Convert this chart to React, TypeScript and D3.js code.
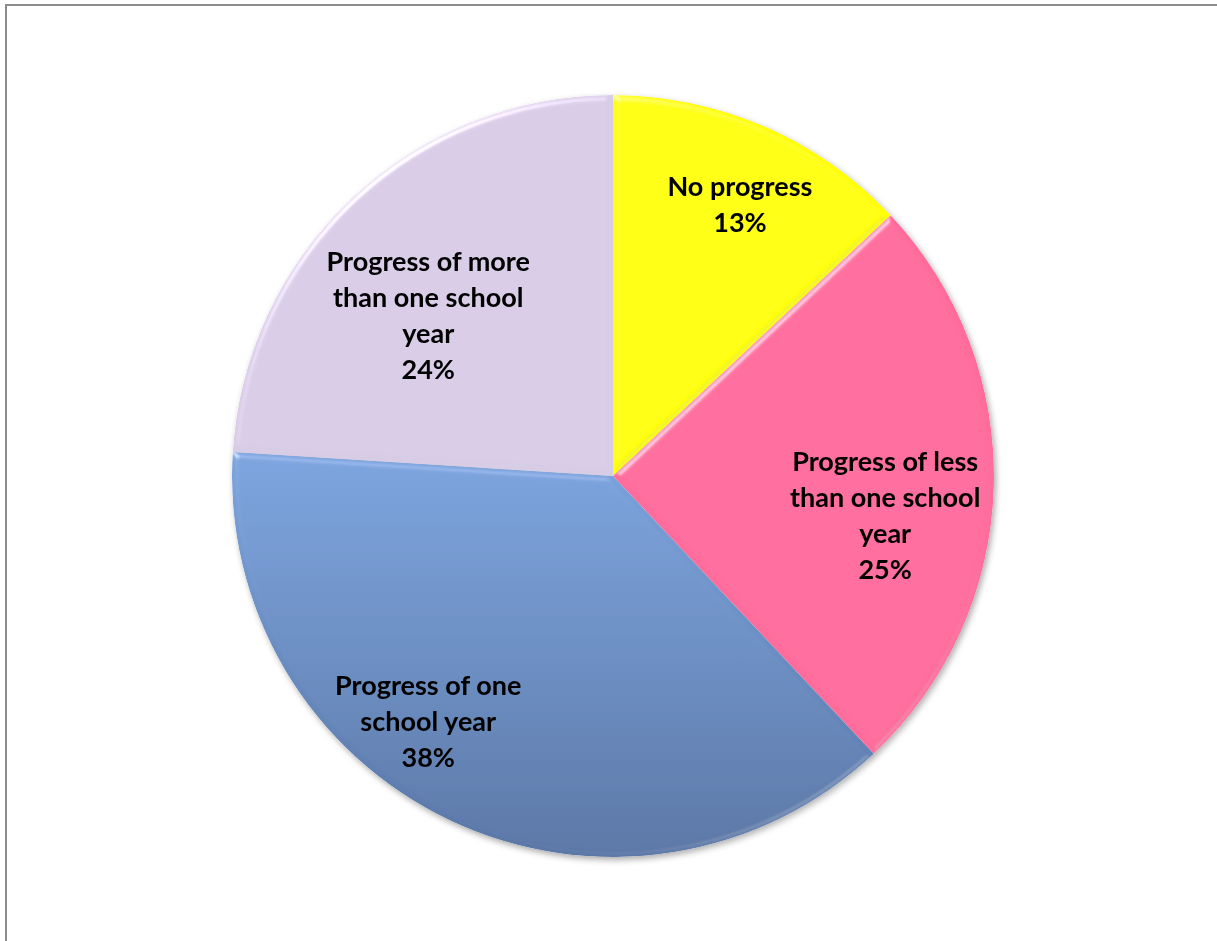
import React from "react";
import * as d3 from "d3";

const categories = [
  "No progress",
  "Progress of less than one school year",
  "Progress of one school year",
  "Progress of more than one school year",
];
const values = [13, 25, 38, 24];
const labelLines = [
  ["No progress", "13%"],
  ["Progress of less", "than one school", "year", "25%"],
  ["Progress of one", "school year", "38%"],
  ["Progress of more", "than one school", "year", "24%"],
];

const W = 1217;
const H = 941;
const CX = 613;
const CY = 476;
const R = 381;
const sliceColors = ["#FFFF00", "#FF6C9C", "url(#blueGrad)", "#D8CCE6"];
// label nudges relative to the label-arc centroid
const labelNudge = [
  [18, -20],
  [-2, 31],
  [-68, -3],
  [3, 40],
];
const LINE_H = 36;

export default function App() {
  const pie = d3
    .pie<number>()
    .sort(null)
    .value((d) => d);
  const arcs = pie(values);
  const arc = d3.arc<d3.PieArcDatum<number>>().innerRadius(0).outerRadius(R);
  const labelArc = d3
    .arc<d3.PieArcDatum<number>>()
    .innerRadius(R * 0.72)
    .outerRadius(R * 0.72);

  return (
    <svg
      width={W}
      height={H}
      style={{ position: "absolute", left: 0, top: 0, background: "#fff" }}
    >
      <defs>
        <linearGradient
          id="blueGrad"
          gradientUnits="userSpaceOnUse"
          x1="0"
          y1={-20}
          x2="0"
          y2={R}
        >
          <stop offset="0" stopColor="#7BA3DE" />
          <stop offset="1" stopColor="#5976A6" />
        </linearGradient>
        <filter id="bevel" x="-5%" y="-5%" width="110%" height="110%">
          <feGaussianBlur in="SourceAlpha" stdDeviation="3" result="blur" />
          <feSpecularLighting
            in="blur"
            surfaceScale="3"
            specularConstant="0.7"
            specularExponent="40"
            lightingColor="#ffffff"
            result="spec"
          >
            <feDistantLight azimuth="235" elevation="40" />
          </feSpecularLighting>
          <feComposite in="spec" in2="SourceAlpha" operator="in" result="specIn" />
          <feSpecularLighting
            in="blur"
            surfaceScale="3"
            specularConstant="0.7"
            specularExponent="40"
            lightingColor="#ffffff"
            result="dark"
          >
            <feDistantLight azimuth="55" elevation="40" />
          </feSpecularLighting>
          <feComposite in="dark" in2="SourceAlpha" operator="in" result="darkIn" />
          <feComposite
            in="SourceGraphic"
            in2="specIn"
            operator="arithmetic"
            k1="0"
            k2="1"
            k3="0.6"
            k4="0"
            result="lit"
          />
          <feComposite
            in="lit"
            in2="darkIn"
            operator="arithmetic"
            k1="-0.45"
            k2="1"
            k3="0"
            k4="0"
            result="litDark"
          />
          <feComposite in="litDark" in2="SourceAlpha" operator="in" />
        </filter>
        <filter id="shadow" x="-10%" y="-10%" width="120%" height="120%">
          <feDropShadow dx="2" dy="3" stdDeviation="3" floodColor="#000" floodOpacity="0.35" />
        </filter>
      </defs>
      <rect x={6} y={5} width={W + 20} height={H + 20} fill="#fff" stroke="#8c8c8c" strokeWidth={2} />
      <g transform={`translate(${CX},${CY})`} filter="url(#shadow)">
        {arcs.map((a, i) => (
          <path
            key={categories[i]}
            d={arc(a) || ""}
            fill={sliceColors[i]}
            filter="url(#bevel)"
          />
        ))}
      </g>
      <g transform={`translate(${CX},${CY})`}>
        {arcs.map((a, i) => {
          const [lx, ly] = labelArc.centroid(a);
          const x = lx + labelNudge[i][0];
          const y = ly + labelNudge[i][1];
          const lines = labelLines[i];
          const top = y - ((lines.length - 1) * LINE_H) / 2;
          return (
            <text
              key={categories[i]}
              textAnchor="middle"
              fontFamily="Lato, sans-serif"
              fontWeight="bold"
              fontSize={27}
              fill="#000"
            >
              {lines.map((t, j) => (
                <tspan key={j} x={x} y={top + j * LINE_H} dy="0.35em">
                  {t}
                </tspan>
              ))}
            </text>
          );
        })}
      </g>
    </svg>
  );
}
